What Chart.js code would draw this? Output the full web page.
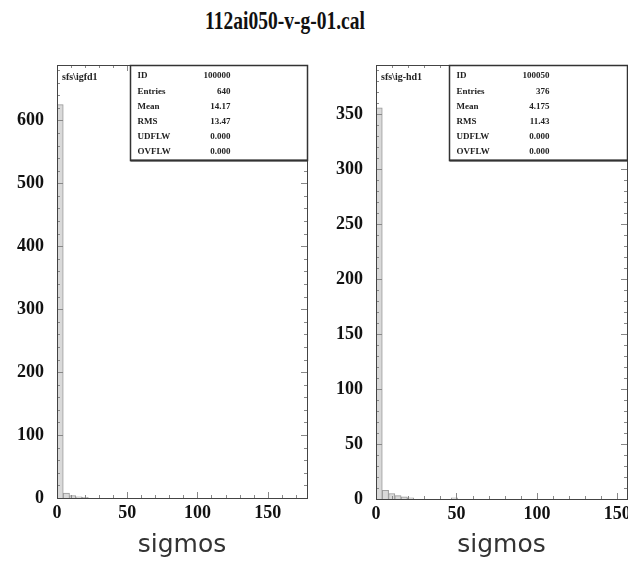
<!DOCTYPE html>
<html>
<head>
<meta charset="utf-8">
<script src="https://cdn.jsdelivr.net/npm/chart.js@4.4.1/dist/chart.umd.min.js"></script>
<style>
  html, body { margin: 0; padding: 0; background: #fff; }
  #page { position: relative; width: 628px; height: 577px; overflow: hidden; }
  #title {
    position: absolute; left: 135px; top: 7px; width: 300px; text-align: center;
    font: bold 25px "Liberation Serif"; color: #111; white-space: nowrap;
    transform: scaleX(0.78); transform-origin: center;
  }
  .panel { position: absolute; top: 55px; }
  #leftBox { left: 0; }
  #rightBox { left: 318px; }
</style>
</head>
<body>
<div id="page">
  <div id="title">112ai050-v-g-01.cal</div>
  <div class="panel" id="leftBox"><canvas id="leftChart" width="318" height="522"></canvas></div>
  <div class="panel" id="rightBox"><canvas id="rightChart" width="310" height="522"></canvas></div>
</div>
<script>
// histogram ranges (sigmos) and counts per bin, 40 bins each
const leftRange = [0, 178];
const leftCounts = [625, 8, 4, 2, 1, 0, 0, 0, 0, 0,
                    0, 0, 0, 0, 0, 0, 0, 0, 0, 0,
                    0, 0, 0, 0, 0, 0, 0, 0, 0, 0,
                    0, 0, 0, 0, 0, 0, 0, 0, 0, 0];
const rightRange = [0, 156];
const rightCounts = [356, 8, 5, 3, 2, 1, 0, 0, 0, 0,
                     0, 0, 1, 0, 0, 0, 0, 0, 0, 0,
                     0, 0, 0, 0, 0, 0, 0, 0, 0, 0,
                     0, 0, 0, 0, 0, 0, 0, 0, 0, 0];

// y axis maxima and steps
const leftYMax = 688;
const leftYStep = 100;
const rightYMax = 395;
const rightYStep = 50;
const xStep = 50;

// stats box
const statLabels = ['ID', 'Entries', 'Mean', 'RMS', 'UDFLW', 'OVFLW'];
const leftStats = ['100000', '640', '14.17', '13.47', '0.000', '0.000'];
const rightStats = ['100050', '376', '4.175', '11.43', '0.000', '0.000'];
const leftName = 'sfs\\igfd1';
const rightName = 'sfs\\ig-hd1';

function binPoints(counts, range) {
  const w = (range[1] - range[0]) / counts.length;
  return counts.map((c, i) => ({ x: range[0] + (i + 0.5) * w, y: c }));
}

// frame, inner tick marks, stats box and histogram name
const framePlugin = {
  id: 'frameBox',
  afterDraw(chart, args, opts) {
    const ctx = chart.ctx;
    const ca = chart.chartArea;
    const xs = chart.scales.x, ys = chart.scales.y;
    ctx.save();
    ctx.strokeStyle = '#888';
    ctx.lineWidth = 1;
    ctx.beginPath();
    for (let v = 0; v <= ys.max; v += opts.yStep / 5) {
      const y = Math.round(ys.getPixelForValue(v)) + 0.5;
      const len = (v % opts.yStep === 0) ? 6 : 3;
      ctx.moveTo(ca.left, y); ctx.lineTo(ca.left + len, y);
      ctx.moveTo(ca.right, y); ctx.lineTo(ca.right - len, y);
    }
    for (let v = 0; v <= xs.max; v += xStep / 5) {
      const x = Math.round(xs.getPixelForValue(v)) + 0.5;
      const len = (v % xStep === 0) ? 6 : 3;
      ctx.moveTo(x, ca.bottom); ctx.lineTo(x, ca.bottom - len);
      ctx.moveTo(x, ca.top); ctx.lineTo(x, ca.top + len);
    }
    ctx.stroke();

    ctx.strokeStyle = '#444';
    ctx.strokeRect(Math.round(ca.left) + 0.5, Math.round(ca.top) + 0.5,
                   Math.round(ca.right - ca.left), Math.round(ca.bottom - ca.top));

    // stats box
    const bx = Math.round(ca.left + 73) + 0.5, by = Math.round(ca.top) + 0.5;
    const bw = Math.round(ca.right - ca.left - 73), bh = 95;
    ctx.fillStyle = '#fff';
    ctx.fillRect(bx, by, bw, bh);
    ctx.strokeStyle = '#333';
    ctx.lineWidth = 1.5;
    ctx.strokeRect(bx, by, bw, bh);
    ctx.lineWidth = 2;
    ctx.beginPath();
    ctx.moveTo(bx, by + bh); ctx.lineTo(bx + bw, by + bh);
    ctx.stroke();
    ctx.fillStyle = '#222';
    ctx.font = 'bold 9px "Liberation Serif"';
    ctx.textBaseline = 'middle';
    const rows = [10, 26, 41, 56, 71, 86];
    statLabels.forEach((lab, i) => {
      ctx.textAlign = 'left';
      ctx.fillText(lab, bx + 7, by + rows[i]);
      ctx.textAlign = 'right';
      ctx.fillText(opts.values[i], bx + 100, by + rows[i]);
    });

    ctx.textAlign = 'left';
    ctx.font = 'bold 10px "Liberation Serif"';
    ctx.fillText(opts.name, ca.left + 5, ca.top + 12);
    ctx.restore();
  }
};

function makeChart(id, counts, range, yMax, yStep, yWidth, xHeight, padRight, stats, name) {
  const tickFont = { family: 'Liberation Serif', weight: 'bold', size: 18 };
  return new Chart(document.getElementById(id), {
    type: 'bar',
    data: {
      datasets: [{
        data: binPoints(counts, range),
        backgroundColor: '#d9d9d9',
        borderColor: '#999',
        borderWidth: 1,
        barPercentage: 1,
        categoryPercentage: 1,
      }]
    },
    options: {
      responsive: false,
      animation: false,
      layout: { padding: { left: 0, top: 10, right: padRight, bottom: 0 } },
      plugins: {
        legend: { display: false },
        tooltip: { enabled: false },
        frameBox: { values: stats, name: name, yStep: yStep },
      },
      scales: {
        x: {
          type: 'linear',
          min: range[0],
          max: range[1],
          offset: false,
          grid: { display: false, drawTicks: false },
          border: { display: false },
          ticks: { stepSize: xStep, includeBounds: false, padding: 5, color: '#111', font: tickFont, maxRotation: 0, autoSkip: false },
          title: {
            display: true, text: 'sigmos', color: '#333',
            font: { family: 'DejaVu Sans', size: 25 },
            padding: { top: 0, bottom: 17 },
          },
          afterBuildTicks: s => { s.ticks = s.ticks.filter(t => t.value % xStep === 0); },
          afterFit: s => { s.height = xHeight; s.paddingLeft = 0; s.paddingRight = 0; },
        },
        y: {
          min: 0,
          max: yMax,
          grid: { display: false, drawTicks: false },
          border: { display: false },
          ticks: { stepSize: yStep, includeBounds: false, padding: 13, color: '#111', font: tickFont },
          afterBuildTicks: s => { s.ticks = s.ticks.filter(t => t.value % yStep === 0); },
          afterFit: s => { s.width = yWidth; s.paddingTop = 0; s.paddingBottom = 0; },
        }
      }
    },
    plugins: [framePlugin]
  });
}

makeChart('leftChart', leftCounts, leftRange, leftYMax, leftYStep, 57, 79, 11, leftStats, leftName);
makeChart('rightChart', rightCounts, rightRange, rightYMax, rightYStep, 58, 78, 1, rightStats, rightName);
</script>
</body>
</html>
